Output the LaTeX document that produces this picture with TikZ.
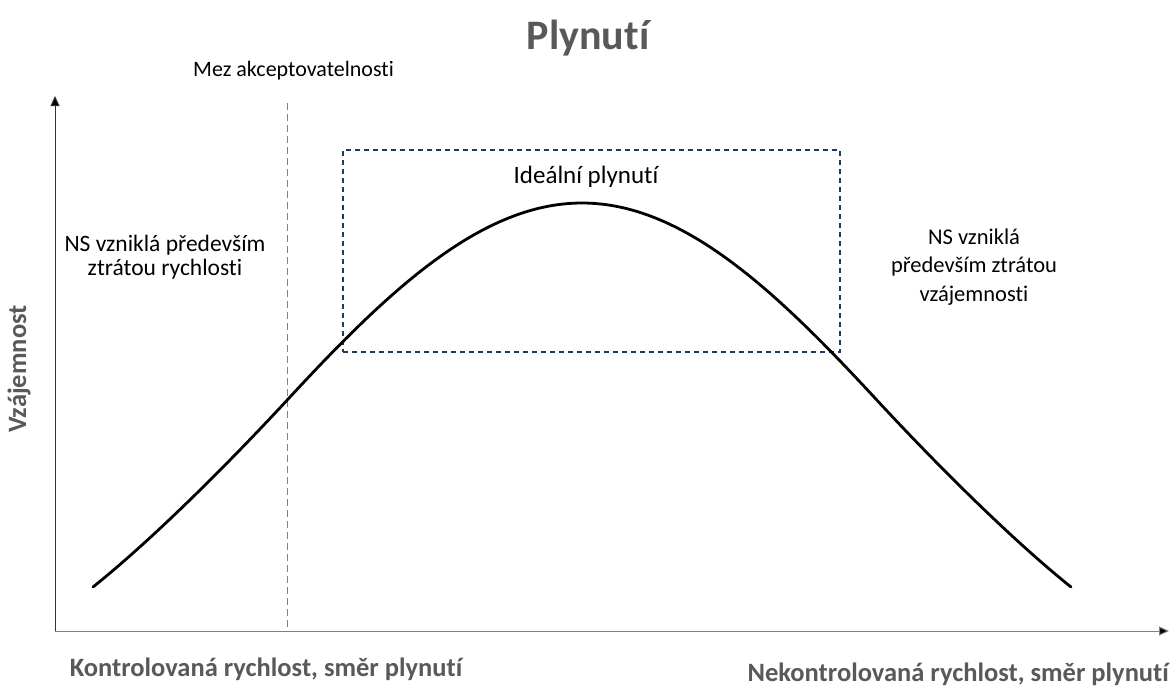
\documentclass[tikz,border=0pt]{standalone}
\usepackage{fontspec}
\setmainfont{Carlito}[Ligatures=NoCommon]
\usetikzlibrary{arrows.meta}
\definecolor{labelgray}{HTML}{595959}
\definecolor{boxblue}{HTML}{203864}
\definecolor{mezgray}{HTML}{808080}
\tikzstyle{note} = [font=\fontsize{22}{28.5}\selectfont, align=center, inner sep=0pt]
\tikzstyle{axislabel} = [font=\fontsize{26.5}{32}\selectfont\bfseries, text=labelgray, inner sep=0pt]

\begin{document}
\begin{tikzpicture}[x=1pt, y=-1pt,
axis/.style = {line width=1pt, -{Triangle[length=10pt,width=9pt,fill=black]}},
mezline/.style = {draw=mezgray, line width=1pt, dash pattern=on 7pt off 4pt},
idealbox/.style = {rectangle, draw=boxblue, line width=1.3pt, dash pattern=on 5pt off 4pt,
    minimum width=497pt, minimum height=202pt, inner sep=0pt},
curve/.style = {draw=black, line width=2.8pt, line cap=round}
                    ]
\useasboundingbox (0,0) rectangle (1174,686);

% axes
\coordinate (origin) at (55,631);
\coordinate (ytop) at (55,96);
\coordinate (xend) at (1169,631);
\draw[axis, draw=black!80] (origin) -- (ytop);
\draw[axis, draw=black!50] (origin) -- (xend);

% acceptance limit
\coordinate (meztop) at (287,103);
\coordinate (mezbot) at (287,627);
\draw[mezline] (meztop) -- (mezbot);

% ideal area
\node[idealbox] (ideal) at (591.5,251) {};

% flow curve
\coordinate (start) at (93,587);
\coordinate (rise) at (290,397);
\coordinate (peak) at (582,203);
\coordinate (fall) at (874,397);
\coordinate (stop) at (1071,587);
\draw[curve] (start) .. controls (153,539) and (230,462) .. (rise)
  .. controls (390,289) and (482,203) .. (peak)
  .. controls (682,203) and (774,289) .. (fall)
  .. controls (934,462) and (1011,539) .. (stop);

% texts
\node[font=\fontsize{42}{50}\selectfont\bfseries, text=labelgray, anchor=base] (title) at (588,49) {Plynutí};
\node[note, anchor=base west] (mez) at (193,76) {Mez akceptovatelnosti};
\node[note, font=\fontsize{25}{30}\selectfont, anchor=base] (idealtxt) at (586,183) {Ideální plynutí};
\node[note, font=\fontsize{23.5}{24}\selectfont, anchor=base] (leftns) at (165,275)
  {NS vzniklá především\\ztrátou rychlosti};
\node[note, font=\fontsize{22.5}{28.5}\selectfont, anchor=base] (rightns) at (974,301)
  {NS vzniklá\\především ztrátou\\vzájemnosti};
\node[axislabel, rotate=90] (ylabel) at (19,369) {Vzájemnost};
\node[axislabel, anchor=base] (xleft) at (266,676) {Kontrolovaná rychlost, směr plynutí};
\node[axislabel, anchor=base east] (xright) at (1169,681) {Nekontrolovaná rychlost, směr plynutí};
\end{tikzpicture}
\end{document}
